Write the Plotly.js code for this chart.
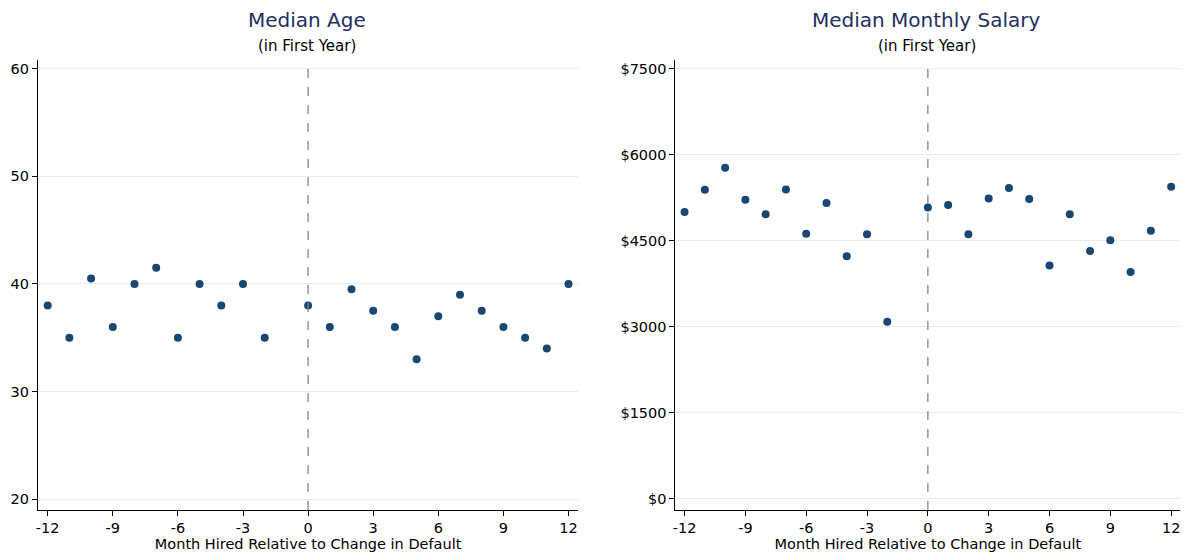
<!DOCTYPE html>
<html>
<head>
<meta charset="utf-8">
<script src="https://cdn.plot.ly/plotly-3.0.1.min.js"></script>
<style>body{margin:0;background:#fff}#chart{width:1185px;height:554px}</style>
</head>
<body>
<div id="chart"></div>
<script>
// months relative to the change in default (no point at -1)
const months = [-12,-11,-10,-9,-8,-7,-6,-5,-4,-3,-2,0,1,2,3,4,5,6,7,8,9,10,11,12];
const medianAge = [38,35,40.5,36,40,41.5,35,40,38,40,35,38,36,39.5,37.5,36,33,37,39,37.5,36,35,34,40];
const medianSalary = [5000,5385,5770,5210,4960,5390,4620,5155,4225,4610,3085,5075,5120,4610,5235,5415,5225,4065,4960,4320,4505,3950,4670,5440];
const ageTicks = [20,30,40,50,60];
const salaryTicks = [0,1500,3000,4500,6000,7500];
const monthTicks = [-12,-9,-6,-3,0,3,6,9,12];

const dot = {color: '#1a476f', size: 8};
const font = {family: 'DejaVu Sans', color: '#000', size: 14.5};
const titleColor = '#1f3060';

const traces = [
    {x: months, y: medianAge, type: 'scatter', mode: 'markers', marker: dot, xaxis: 'x', yaxis: 'y', hoverinfo: 'x+y'},
    {x: months, y: medianSalary, type: 'scatter', mode: 'markers', marker: dot, xaxis: 'x2', yaxis: 'y2', hoverinfo: 'x+y'}
];

function xAxis(domain, anchor) {
    return {
        domain: domain, anchor: anchor, range: [-12.45, 12.45],
        tickvals: monthTicks, ticktext: monthTicks.map(String),
        showgrid: false, zeroline: false, showline: true, linecolor: '#000', linewidth: 1,
        ticks: 'outside', ticklen: 5, tickcolor: '#000',
        title: {text: 'Month Hired Relative to Change in Default', font: {size: 14.5}, standoff: 2}
    };
}
function yAxis(range, vals, text, anchor) {
    return {
        domain: [0, 1], anchor: anchor, range: range,
        tickvals: vals, ticktext: text,
        showgrid: true, gridcolor: '#e6ebef', zeroline: false, showline: true, linecolor: '#000', linewidth: 1,
        ticks: 'outside', ticklen: 5, tickcolor: '#000'
    };
}

const layout = {
    width: 1185, height: 554,
    margin: {l: 0, r: 0, t: 60, b: 44},
    paper_bgcolor: '#fff', plot_bgcolor: '#fff',
    font: font, showlegend: false,
    xaxis: xAxis([0.032, 0.488], 'y'),
    yaxis: yAxis([19, 60.8], ageTicks, ageTicks.map(String), 'x'),
    xaxis2: xAxis([0.570, 0.996], 'y2'),
    yaxis2: yAxis([-200, 7650], salaryTicks, salaryTicks.map(v => '$' + v), 'x2'),
    shapes: [
        {type: 'line', xref: 'x', yref: 'y domain', x0: 0, x1: 0, y0: 0, y1: 1, line: {color: '#888', width: 1.3, dash: 'dash'}},
        {type: 'line', xref: 'x2', yref: 'y2 domain', x0: 0, x1: 0, y0: 0, y1: 1, line: {color: '#888', width: 1.3, dash: 'dash'}}
    ],
    annotations: [
        {text: 'Median Age', xref: 'paper', yref: 'paper', x: 0.259, xanchor: 'center', y: 1, yshift: 54, showarrow: false, font: {size: 20, color: titleColor}},
        {text: '(in First Year)', xref: 'paper', yref: 'paper', x: 0.259, xanchor: 'center', y: 1, yshift: 25, showarrow: false, font: {size: 15}},
        {text: 'Median Monthly Salary', xref: 'paper', yref: 'paper', x: 0.782, xanchor: 'center', y: 1, yshift: 54, showarrow: false, font: {size: 20, color: titleColor}},
        {text: '(in First Year)', xref: 'paper', yref: 'paper', x: 0.782, xanchor: 'center', y: 1, yshift: 25, showarrow: false, font: {size: 15}}
    ]
};

Plotly.newPlot('chart', traces, layout, {displayModeBar: false});
</script>
</body>
</html>
